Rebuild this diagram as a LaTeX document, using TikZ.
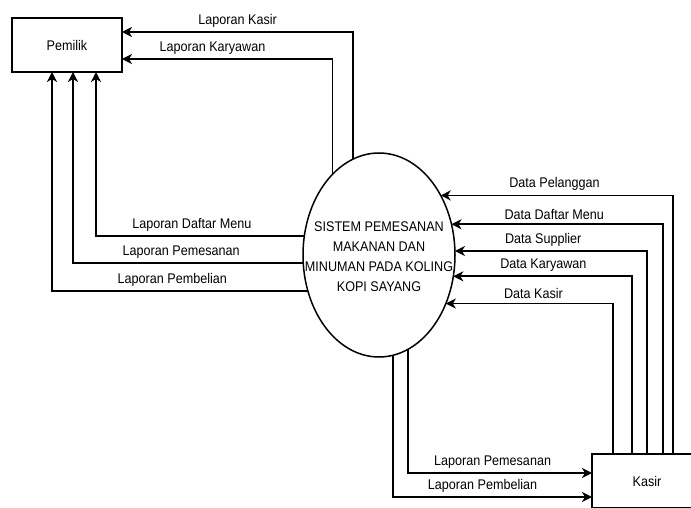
\documentclass[tikz,border=0pt]{standalone}
\usepackage{fontspec}
\setmainfont[FakeStretch=0.9]{Liberation Sans}
\usetikzlibrary{arrows.meta,shapes.geometric}

\begin{document}
\begin{tikzpicture}[x=1pt,y=-1pt,>={Stealth[length=10pt,width=10pt,inset=3pt]}]
\tikzstyle{ent}=[rectangle, minimum width=110pt, minimum height=54pt, draw=black, line width=1.8pt, outer sep=0pt, font=\fontsize{14}{16}\selectfont]
\tikzstyle{proc}=[ellipse, minimum width=152pt, minimum height=204pt, inner sep=0pt, outer sep=0pt, draw=black, line width=1.5pt]
\tikzstyle{flow}=[->, line width=1.8pt]
\tikzstyle{lbl}=[above=2pt, inner sep=2pt, font=\fontsize{14}{16}\selectfont]
\useasboundingbox (0,0) rectangle (691,508);
\node (pem) [ent] at (67,45) {Pemilik};
\node (kas) [ent] at (647,481) {Kasir};
\node (sys) [proc, label={[align=center, yshift=-2pt, font=\fontsize{14}{20}\selectfont]center:SISTEM PEMESANAN\\MAKANAN DAN\\MINUMAN PADA KOLING\\KOPI SAYANG}] at (379,255) {};
% ke pemilik
\draw [flow] (sys.105.8) |- node[lbl, pos=0.75] {Laporan Kasir} ([yshift=13pt]pem.east);
\draw [flow] (sys.120.4) |- node[lbl, pos=0.785] {Laporan Karyawan} ([yshift=-14pt]pem.east);
\draw [flow] (sys.166.5) -| node[lbl, pos=0.27] {Laporan Daftar Menu} ([xshift=29pt]pem.south);
\draw [flow] (sys.186.8) -| node[lbl, pos=0.265] {Laporan Pemesanan} ([xshift=6pt]pem.south);
\draw [flow] (sys.207.6) -| node[lbl, pos=0.265] {Laporan Pembelian} ([xshift=-15pt]pem.south);
% dari kasir
\draw [flow] ([xshift=26pt]kas.north) |- node[lbl, pos=0.755] {Data Pelanggan} (sys.44.3);
\draw [flow] ([xshift=16pt]kas.north) |- node[lbl, pos=0.757] {Data Daftar Menu} (sys.23.9);
\draw [flow] (kas.north) |- node[lbl, pos=0.77] {Data Supplier} (sys.3.8);
\draw [flow] ([xshift=-15pt]kas.north) |- node[lbl, pos=0.748] {Data Karyawan} (sys.-16.5);
\draw [flow] ([xshift=-34pt]kas.north) |- node[lbl, pos=0.738] {Data Kasir} (sys.-36.3);
% ke kasir
\draw [flow] (sys.-73.5) |- node[lbl, pos=0.73] {Laporan Pemesanan} ([yshift=8pt]kas.west);
\draw [flow] (sys.-82.6) |- node[lbl, pos=0.725] {Laporan Pembelian} ([yshift=-16pt]kas.west);
\end{tikzpicture}
\end{document}
